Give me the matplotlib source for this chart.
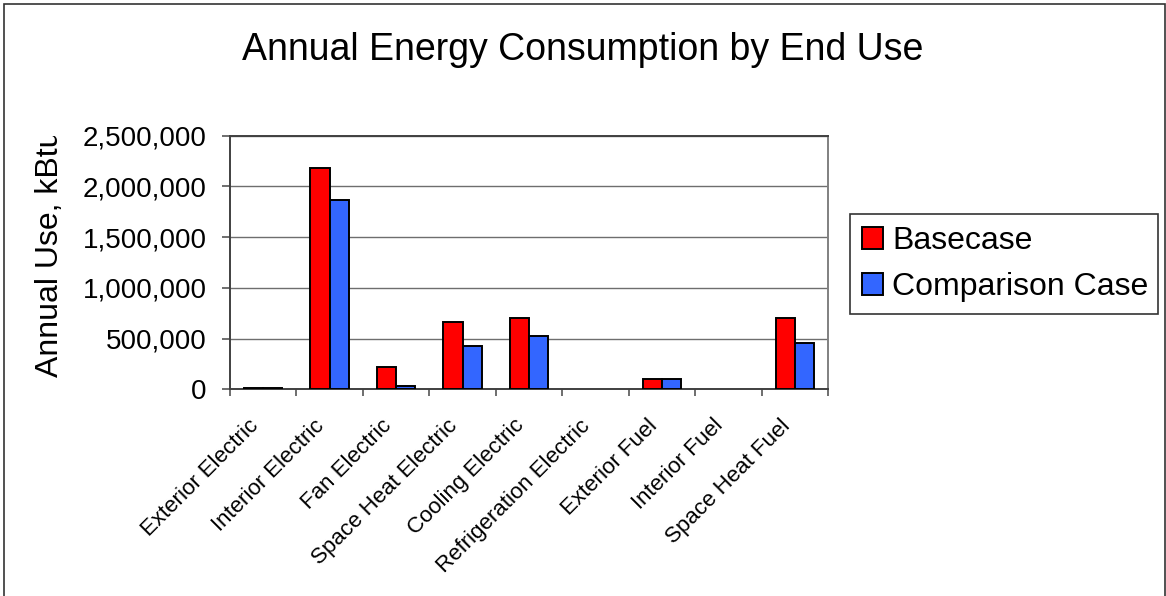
import numpy as np
import matplotlib
matplotlib.use("Agg")
import matplotlib.pyplot as plt
from matplotlib.patches import Rectangle
from matplotlib.ticker import FuncFormatter, FixedLocator
from matplotlib.transforms import Bbox, TransformedBbox, ScaledTranslation

plt.rcParams['font.family'] = ['Liberation Sans', 'DejaVu Sans']

# data (kBtu)
categories = ["Exterior Electric", "Interior Electric", "Fan Electric",
              "Space Heat Electric", "Cooling Electric", "Refrigeration Electric",
              "Exterior Fuel", "Interior Fuel", "Space Heat Fuel"]
basecase = [16000, 2185000, 217000, 667000, 707000, 0, 99000, 0, 707000]
comparison = [15000, 1870000, 36000, 430000, 526000, 0, 98000, 0, 453000]
series_names = ["Basecase", "Comparison Case"]
yticks = [0, 500000, 1000000, 1500000, 2000000, 2500000]

W, H = 1166, 596
fig = plt.figure(figsize=(W / 100, H / 100), dpi=100)
fig.patch.set_facecolor('white')

# outer chart border
fig.patches.append(Rectangle((4 / W, -0.05), 1161 / W, 1.05 - 4 / H,
                             transform=fig.transFigure, fill=False,
                             edgecolor='#333333', linewidth=1.2))

ax = fig.add_axes([230 / W, 1 - 389.3 / H, 598 / W, (389.3 - 135.7) / H])

x = np.arange(len(categories))
bw = 0.29
ax.bar(x - bw / 2, basecase, bw, color='#FF0000', edgecolor='black',
       linewidth=[1.4 if v > 0 else 0 for v in basecase],
       label=series_names[0], zorder=3)
ax.bar(x + bw / 2, comparison, bw, color='#3366FF', edgecolor='black',
       linewidth=[1.4 if v > 0 else 0 for v in comparison],
       label=series_names[1], zorder=3)

ax.set_xlim(-0.5, len(categories) - 0.5)
ax.set_ylim(0, 2500000)
ax.set_yticks(yticks)
ax.yaxis.set_major_formatter(FuncFormatter(lambda v, p: f"{int(v):,}"))
ax.grid(axis='y', color='#6e6e6e', linewidth=1.0, zorder=0)

# ticks on category boundaries, labels on category centres
ax.xaxis.set_major_locator(FixedLocator(np.arange(-0.5, len(categories), 1.0)))
ax.xaxis.set_major_formatter(FuncFormatter(lambda v, p: ""))
ax.xaxis.set_minor_locator(FixedLocator(x))
ax.set_xticklabels(categories, minor=True, rotation=45, ha='right',
                   rotation_mode='anchor', va='center', fontsize=16)
ax.tick_params(axis='x', which='minor', length=0, pad=24)
ax.tick_params(axis='x', which='major', length=5, width=1.2, color='#555555')
ax.tick_params(axis='y', length=6, width=1.2, color='#555555', pad=11, labelsize=20)
shift = ScaledTranslation(-8 / 100, 0, fig.dpi_scale_trans)
for lbl in ax.get_xticklabels(minor=True):
    lbl.set_transform(lbl.get_transform() + shift)

for side in ['left', 'bottom', 'top']:
    ax.spines[side].set_color('#404040')
    ax.spines[side].set_linewidth(1.4)
ax.spines['right'].set_color('#808080')
ax.spines['right'].set_linewidth(1.4)

fig.text(0.5, 1 - 60 / H, "Annual Energy Consumption by End Use",
         ha='center', va='baseline', fontsize=27)

ylab = fig.text(50 / W, 1 - 253 / H, "Annual Use, kBtu", rotation=90,
                ha='center', va='center', fontsize=23)
ylab.set_clip_box(TransformedBbox(Bbox([[0, 0], [0.19, 1 - 136 / H]]), fig.transFigure))
ylab.set_clip_on(True)

leg = fig.legend(loc='upper left', bbox_to_anchor=(850 / W, 1 - 311 / H, 308 / W, 97 / H),
                 mode='expand', borderaxespad=0, fontsize=23, frameon=True,
                 fancybox=False, framealpha=1, edgecolor='#333333',
                 handlelength=0.65, handleheight=0.7, handletextpad=0.3,
                 labelspacing=0.5, borderpad=0.38)
leg.get_frame().set_linewidth(1.2)

fig.savefig("out.png", dpi=100, facecolor='white')
